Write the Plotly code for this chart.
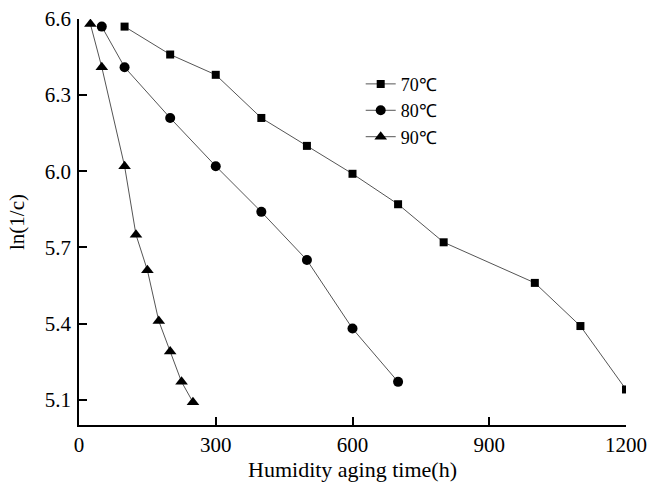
import plotly.graph_objects as go

x70 = [100, 200, 300, 400, 500, 600, 700, 800, 1000, 1100, 1200]
y70 = [6.57, 6.46, 6.38, 6.21, 6.10, 5.99, 5.87, 5.72, 5.56, 5.39, 5.14]

x80 = [50, 100, 200, 300, 400, 500, 600, 700]
y80 = [6.57, 6.41, 6.21, 6.02, 5.84, 5.65, 5.38, 5.17]

x90 = [25, 50, 100, 125, 150, 175, 200, 225, 250]
y90 = [6.58, 6.41, 6.02, 5.75, 5.61, 5.41, 5.29, 5.17, 5.09]

names = ["70℃", "80℃", "90℃"]
xticks = [0, 300, 600, 900, 1200]
yticks = [5.1, 5.4, 5.7, 6.0, 6.3, 6.6]

FONT = "Liberation Serif"
FS = 21
line_style = dict(color="#555555", width=1)

fig = go.Figure()
for xs, ys, nm, sym, sz in [
    (x70, y70, names[0], "square", 8),
    (x80, y80, names[1], "circle", 10),
    (x90, y90, names[2], "triangle-up", 11),
]:
    fig.add_trace(go.Scatter(
        x=xs, y=ys, name=nm, mode="lines+markers",
        line=line_style,
        marker=dict(symbol=sym, size=sz, color="black", line=dict(width=0)),
        cliponaxis=True,
    ))

fig.update_layout(
    width=649, height=487,
    margin=dict(l=79, r=23, t=19, b=62, autoexpand=False),
    plot_bgcolor="white", paper_bgcolor="white",
    font=dict(family=FONT, size=FS, color="black"),
    showlegend=True,
    legend=dict(
        x=0.515, y=0.885, xanchor="left", yanchor="top",
        bgcolor="rgba(0,0,0,0)", font=dict(size=18, family=FONT, color="black"),
        traceorder="normal", itemwidth=30,
    ),
    xaxis=dict(
        range=[0, 1200], tickvals=xticks, ticktext=[str(v) for v in xticks],
        ticks="inside", ticklen=8, tickwidth=1.5, tickcolor="black",
        showline=True, linecolor="black", linewidth=1.5,
        showgrid=False, zeroline=False, mirror=False, automargin=False,
        ticklabelstandoff=0,
        title=dict(text="Humidity aging time(h)", font=dict(size=22, family=FONT, color="black"), standoff=1),
        tickfont=dict(size=FS, family=FONT, color="black"),
    ),
    yaxis=dict(
        range=[5.0, 6.6], tickvals=yticks, ticktext=[f"{v:.1f}" for v in yticks],
        ticks="inside", ticklen=8, tickwidth=1.5, tickcolor="black",
        showline=True, linecolor="black", linewidth=1.5,
        showgrid=False, zeroline=False, mirror=False, automargin=False,
        ticklabelstandoff=2,
        title=dict(text="ln(1/c)", font=dict(size=FS, family=FONT, color="black"), standoff=14),
        tickfont=dict(size=FS, family=FONT, color="black"),
    ),
)

fig.write_html(
    "out.html",
    config={"displayModeBar": False},
    post_script="document.body.style.margin='0';document.body.style.overflow='hidden';",
)
